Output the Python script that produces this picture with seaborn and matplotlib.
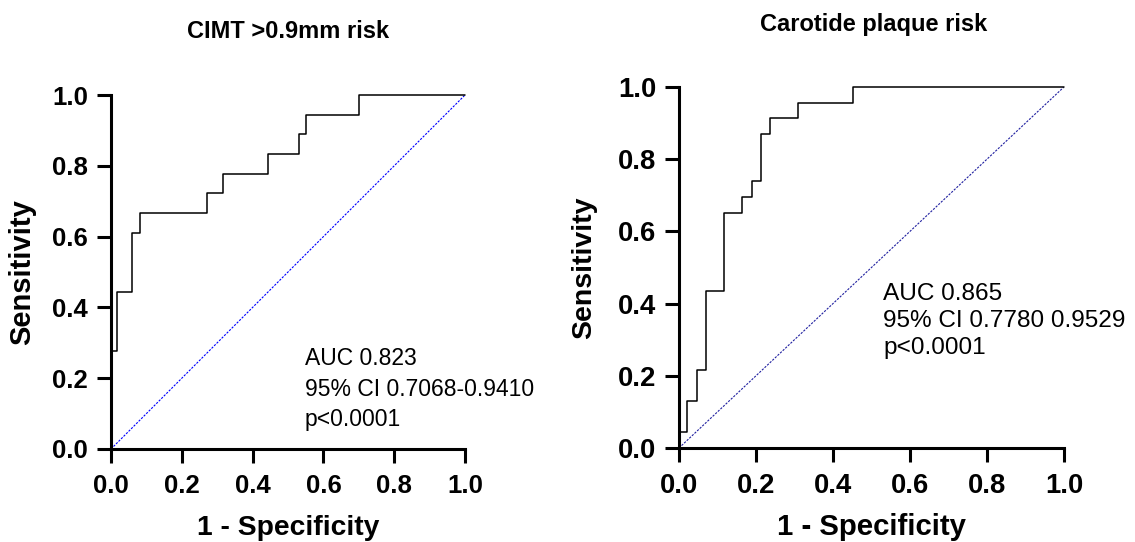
import numpy as np
import pandas as pd
import matplotlib
matplotlib.use("Agg")
import matplotlib.pyplot as plt
import seaborn as sns

# ── ROC data ─────────────────────────────────────────────────────────────────
fpr_cimt = [0, 0, 0.016, 0.016, 0.060, 0.060, 0.082, 0.082, 0.272, 0.272, 0.315,
            0.315, 0.444, 0.444, 0.531, 0.531, 0.551, 0.551, 0.700, 0.700, 1.0]
tpr_cimt = [0, 0.278, 0.278, 0.444, 0.444, 0.611, 0.611, 0.667, 0.667, 0.722, 0.722,
            0.778, 0.778, 0.833, 0.833, 0.889, 0.889, 0.944, 0.944, 1.0, 1.0]

fpr_plaque = [0, 0, 0.021, 0.021, 0.046, 0.046, 0.069, 0.069, 0.117, 0.117, 0.165, 0.165,
              0.189, 0.189, 0.213, 0.213, 0.237, 0.237, 0.308, 0.308, 0.451, 0.451, 1.0]
tpr_plaque = [0, 0.043, 0.043, 0.130, 0.130, 0.217, 0.217, 0.435, 0.435, 0.652, 0.652, 0.696,
              0.696, 0.739, 0.739, 0.870, 0.870, 0.913, 0.913, 0.957, 0.957, 1.0, 1.0]

chance = [0, 1]
ticks = [0.0, 0.2, 0.4, 0.6, 0.8, 1.0]
tick_labels = ["0.0", "0.2", "0.4", "0.6", "0.8", "1.0"]

titles = ["CIMT >0.9mm risk", "Carotide plaque risk"]
notes = [["AUC 0.823", "95% CI 0.7068-0.9410", "p<0.0001"],
         ["AUC 0.865", "95% CI 0.7780 0.9529", "p<0.0001"]]

sns.set_style("ticks", {"text.color": "black", "axes.labelcolor": "black",
                        "xtick.color": "black", "ytick.color": "black"})
plt.rcParams["font.family"] = ["Liberation Sans", "DejaVu Sans"]

fig = plt.figure(figsize=(11.35, 5.42), dpi=100)

panels = [
    dict(rect=[0.0978, 0.1716, 0.3119, 0.6531], fpr=fpr_cimt, tpr=tpr_cimt,
         diag="#0000ff", tick_fs=18.5, xlab_fs=20.3, ylab_fs=21, note_fs=16.5,
         note_xy=(0.548, 0.169), line_sp=1.42, ylab_x=-0.212, xlab_y=-0.186,
         title_xy=(288, 31)),
    dict(rect=[0.5982, 0.1734, 0.3392, 0.6661], fpr=fpr_plaque, tpr=tpr_plaque,
         diag="#2020a0", tick_fs=19.8, xlab_fs=21.2, ylab_fs=20.5, note_fs=17.6,
         note_xy=(0.530, 0.352), line_sp=1.3, ylab_x=-0.213, xlab_y=-0.180,
         title_xy=(874, 24)),
]

for i, p in enumerate(panels):
    ax = fig.add_axes(p["rect"])
    df = pd.DataFrame({"fpr": p["fpr"], "tpr": p["tpr"]})
    sns.lineplot(data=df, x="fpr", y="tpr", ax=ax, sort=False, estimator=None,
                 color="black", linewidth=1.1, clip_on=False, zorder=3)
    sns.lineplot(x=chance, y=chance, ax=ax, color=p["diag"], linewidth=0.8,
                 linestyle=(0, (2, 1.2)), zorder=2)

    ax.set_xlim(0, 1)
    ax.set_ylim(0, 1)
    ax.set_xticks(ticks)
    ax.set_yticks(ticks)
    ax.set_xticklabels(tick_labels, fontsize=p["tick_fs"], fontweight="bold")
    ax.set_yticklabels(tick_labels, fontsize=p["tick_fs"], fontweight="bold")
    ax.tick_params(length=10, width=2.2, color="black", labelcolor="black",
                   direction="out")
    ax.tick_params(axis="x", pad=8)
    ax.tick_params(axis="y", pad=6.5)
    sns.despine(ax=ax)
    for s in ["left", "bottom"]:
        ax.spines[s].set_linewidth(2.2)
        ax.spines[s].set_color("black")

    ax.set_xlabel("1 - Specificity", fontsize=p["xlab_fs"], fontweight="bold",
                  color="black")
    ax.set_ylabel("Sensitivity", fontsize=p["ylab_fs"], fontweight="bold",
                  color="black")
    ax.xaxis.set_label_coords(0.5, p["xlab_y"])
    ax.yaxis.set_label_coords(p["ylab_x"], 0.5)

    ax.text(p["note_xy"][0], p["note_xy"][1], "\n".join(notes[i]),
            transform=ax.transAxes, fontsize=p["note_fs"], ha="left", va="center",
            linespacing=p["line_sp"], color="black")

    tx, ty = p["title_xy"]
    fig.text(tx / 1135, 1 - ty / 542, titles[i], fontsize=17, fontweight="bold",
             ha="center", va="center", color="black")

fig.savefig("out.png", dpi=100)
